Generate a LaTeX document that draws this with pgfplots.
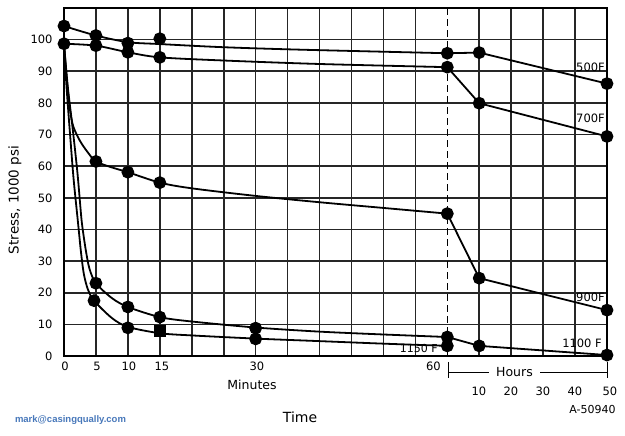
\documentclass[border=0pt]{standalone}
\usepackage{pgfplots}
\pgfplotsset{compat=1.18}
\usepackage{fontspec}
\setmainfont{DejaVu Sans}
\newfontfamily\wmfont{Liberation Sans}
\definecolor{wmblue}{RGB}{72,120,186}
\begin{document}
\begin{tikzpicture}
\useasboundingbox (-64pt,-80pt) rectangle (561pt,356pt);
\begin{axis}[
  at={(0pt,0pt)}, anchor=south west,
  scale only axis, width=543pt, height=348pt,
  xmin=0, xmax=17, ymin=0, ymax=110,
  xtick={0,1,...,11,13,14,15,16,17},
  xticklabels={},
  ytick={0,10,...,100},
  /pgf/number format/assume math mode=true,
  yticklabel style={font=\fontsize{11.5}{12}\selectfont, xshift=-8pt},
  grid=major,
  major grid style={black!85, line width=1.6pt},
  axis line style={black, line width=2pt},
  major tick length=0pt,
  clip=false,
  every axis plot/.append style={black, line width=1.8pt},
]
% 60-minute dashed divider
\addplot[black, line width=1.5pt, dash pattern=on 7pt off 4pt] coordinates {(12,0) (12,110)};
% 500F
\addplot[black, smooth] coordinates {(0,104.3) (1,101.3) (2,99.2) (3,98.6) (5,97.6) (7.5,96.8) (12,95.7)};
\addplot[black] coordinates {(12,95.7) (13,95.9) (17,86.1)};
\addplot[black, only marks, mark=*, mark size=5.5pt] coordinates {(0,104.3) (1,101.3) (2,98.9) (3,100.3) (12,95.7) (13,95.9) (17,86.1)};
% 700F
\addplot[black, smooth] coordinates {(0,98.7) (1,98.1) (2,96) (3,94.4) (5,93.4) (8,92.3) (12,91.3)};
\addplot[black] coordinates {(12,91.3) (13,79.9) (17,69.4)};
\addplot[black, only marks, mark=*, mark size=5.5pt] coordinates {(0,98.7) (1,98.1) (2,96) (3,94.4) (12,91.3) (13,79.9) (17,69.4)};
% 900F
\addplot[black, smooth] coordinates {(0,98.7) (0.1,86) (0.2,77) (0.3,72.3) (0.5,68) (0.75,64.3) (1,61.5) (1.5,59.6) (2,58.1) (3,54.8) (4,53) (6,50.6) (8,48.6) (10,46.8) (12,45.0)};
\addplot[black] coordinates {(12,45.0) (13,24.6) (17,14.5)};
\addplot[black, only marks, mark=*, mark size=5.5pt] coordinates {(1,61.5) (2,58.1) (3,54.8) (12,45.0) (13,24.6) (17,14.5)};
% 1100F
\addplot[black, smooth] coordinates {(0,98.7) (0.12,85) (0.27,72) (0.42,58) (0.54,44) (0.6,39) (0.69,33) (0.8,27.5) (1,23) (1.5,18.3) (2,15.5) (3,12.3) (4,10.9) (6,9.0) (8,7.7) (10,6.8) (12,6.0)};
\addplot[black] coordinates {(12,6.0) (13,3.2) (17,0.3)};
\addplot[black, only marks, mark=*, mark size=5.5pt] coordinates {(1,23) (2,15.5) (3,12.3) (6,8.8) (12,6.0) (13,3.2) (17,0.3)};
% 1150F
\addplot[black, smooth] coordinates {(0,98.7) (0.08,85) (0.19,70) (0.3,56) (0.42,44) (0.47,39) (0.53,33) (0.62,26) (0.75,21) (0.94,17.5) (1.5,12) (2,9.2) (3,7.2) (4,6.5) (6,5.5) (8,4.7) (10,3.9) (12,3.2)};
\addplot[black, only marks, mark=*, mark size=5.5pt] coordinates {(0.94,17.5) (2,8.9) (6,5.4) (12,3.2)};
\addplot[black, only marks, mark=square*, mark size=5pt] coordinates {(3,7.9)};
\end{axis}
% y label
\node[rotate=90, inner sep=0pt, font=\fontsize{13.5}{14}\selectfont] at (-49pt,156pt) {Stress, 1000 psi};
\begin{scope}[every node/.style={inner sep=0pt, font=\fontsize{11.5}{12}\selectfont}]
\node at (1pt,-10.7pt) {0};
\node at (33pt,-10.7pt) {5};
\node at (65pt,-10.7pt) {10};
\node at (98pt,-10.7pt) {15};
\node at (193pt,-10.7pt) {30};
\node at (369.5pt,-10.7pt) {60};
\node at (415pt,-35pt) {10};
\node at (447pt,-35pt) {20};
\node at (479pt,-35pt) {30};
\node at (511pt,-35pt) {40};
\node at (546pt,-35pt) {50};
\node[anchor=east] at (541pt,289pt) {500F};
\node[anchor=east] at (541pt,238pt) {700F};
\node[anchor=east] at (541pt,59pt) {900F};
\node[anchor=east] at (538pt,12.5pt) {1100 F};
\node[anchor=east, font=\fontsize{11}{12}\selectfont] at (374pt,7pt) {1150 F};
\node[font=\fontsize{11}{12}\selectfont] at (528.5pt,-53pt) {A-50940};
\node[font=\fontsize{12.5}{13}\selectfont] at (188pt,-29pt) {Minutes};
\node[font=\fontsize{12.5}{13}\selectfont] at (450.5pt,-16pt) {Hours};
\node[font=\fontsize{14}{15}\selectfont] at (236pt,-61pt) {Time};
\node[font=\wmfont\bfseries\fontsize{9.5}{10}\selectfont, text=wmblue] at (6.5pt,-64pt) {mark@casingqually.com};
\end{scope}
% hours bracket
\draw[line width=0.9pt] (384pt,-6pt) -- (384pt,-22pt);
\draw[line width=0.9pt] (543pt,-6pt) -- (543pt,-22pt);
\draw[line width=0.9pt] (384pt,-16pt) -- (425pt,-16pt);
\draw[line width=0.9pt] (476pt,-16pt) -- (543pt,-16pt);
\end{tikzpicture}
\end{document}
